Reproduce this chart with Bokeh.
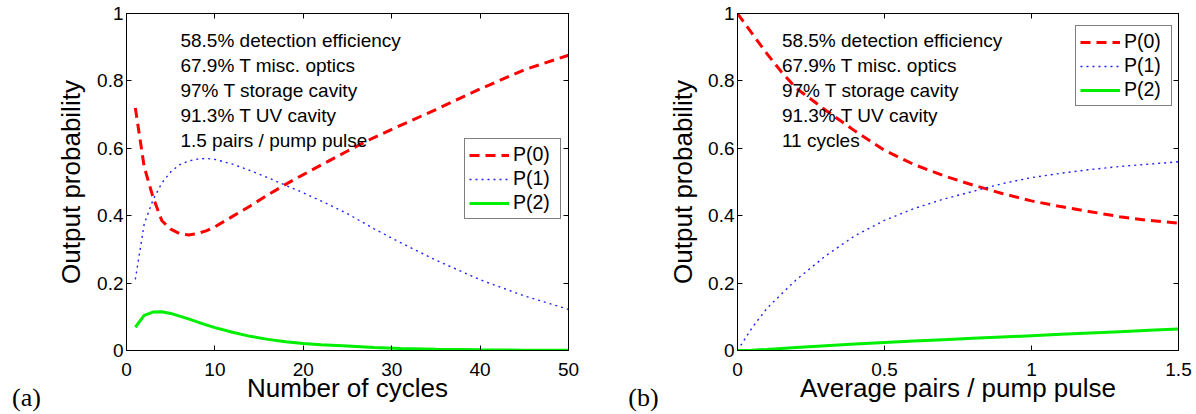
from bokeh.plotting import figure
from bokeh.models import Range1d, LinearAxis, FixedTicker, Label, Legend, LegendItem
from bokeh.layouts import row
from bokeh.embed import file_html
from bokeh.resources import INLINE

# ---------------- data: panel (a) ----------------
cycles = [1, 2, 3, 4, 5, 6, 7, 8, 9, 10, 12, 14, 16, 18, 20, 22, 25, 28, 31, 35, 40, 45, 50]
a_p0 = [0.720, 0.545, 0.455, 0.385, 0.360, 0.347, 0.343, 0.347, 0.355, 0.367, 0.398, 0.429,
        0.462, 0.493, 0.522, 0.550, 0.592, 0.632, 0.668, 0.715, 0.776, 0.833, 0.876]
a_p1 = [0.211, 0.375, 0.447, 0.497, 0.530, 0.551, 0.562, 0.568, 0.570, 0.567, 0.553, 0.534,
        0.513, 0.490, 0.468, 0.444, 0.406, 0.361, 0.320, 0.268, 0.210, 0.162, 0.122]
a_p2 = [0.069, 0.104, 0.114, 0.115, 0.110, 0.102, 0.094, 0.085, 0.076, 0.068, 0.054, 0.042,
        0.033, 0.026, 0.021, 0.017, 0.013, 0.009, 0.006, 0.004, 0.002, 0.001, 0.001]

# ---------------- data: panel (b) ----------------
pairs = [0, 0.05, 0.1, 0.15, 0.2, 0.3, 0.4, 0.5, 0.6, 0.7, 0.8, 0.9, 1.0, 1.1, 1.2, 1.3, 1.4, 1.5]
b_p0 = [1.0, 0.940, 0.881, 0.826, 0.778, 0.713, 0.651, 0.594, 0.552, 0.519, 0.491, 0.466,
        0.444, 0.427, 0.412, 0.397, 0.386, 0.378]
b_p1 = [0.0, 0.068, 0.125, 0.168, 0.210, 0.281, 0.341, 0.386, 0.421, 0.449, 0.472, 0.495,
        0.513, 0.526, 0.537, 0.546, 0.553, 0.560]
b_p2 = [0.0, 0.001, 0.003, 0.006, 0.009, 0.014, 0.019, 0.024, 0.028, 0.032, 0.036, 0.040,
        0.044, 0.048, 0.052, 0.056, 0.060, 0.064]

series_labels = ["P(0)", "P(1)", "P(2)"]

y_ticks = [0, 0.2, 0.4, 0.6, 0.8, 1]
y_tick_labels = ["0", "0.2", "0.4", "0.6", "0.8", "1"]
a_x_ticks = [0, 10, 20, 30, 40, 50]
a_x_tick_labels = ["0", "10", "20", "30", "40", "50"]
b_x_ticks = [0, 0.5, 1, 1.5]
b_x_tick_labels = ["0", "0.5", "1", "1.5"]

a_notes = ["58.5% detection efficiency", "67.9% T misc. optics", "97% T storage cavity",
           "91.3% T UV cavity", "1.5 pairs / pump pulse"]
b_notes = ["58.5% detection efficiency", "67.9% T misc. optics", "97% T storage cavity",
           "91.3% T UV cavity", "11 cycles"]

SANS = "Liberation Sans"
SERIF = "Liberation Serif"
H = 414


def make_panel(xs, ys_list, xr, x_ticks, x_tick_labels, xlabel, notes, note_x,
               width, border_left, border_right, legend_loc, ylabel_standoff):
    p = figure(width=width, height=H, output_backend="svg", toolbar_location=None,
               x_range=Range1d(*xr), y_range=Range1d(0, 1),
               min_border_left=border_left, min_border_right=border_right,
               min_border_top=13, min_border_bottom=62)
    p.grid.visible = False
    p.outline_line_color = "black"
    p.outline_line_width = 1
    p.background_fill_color = "white"
    p.border_fill_color = "white"

    xo = {v: s for v, s in zip(x_ticks, x_tick_labels)}
    yo = {v: s for v, s in zip(y_ticks, y_tick_labels)}

    for ax in p.xaxis:
        ax.ticker = FixedTicker(ticks=x_ticks)
        ax.major_label_overrides = xo
        ax.axis_label = xlabel
        ax.major_label_standoff = 12
        ax.axis_label_standoff = -6
    for ax in p.yaxis:
        ax.ticker = FixedTicker(ticks=y_ticks)
        ax.major_label_overrides = yo
        ax.axis_label = "Output probability"
        ax.major_label_standoff = 3
        ax.axis_label_standoff = ylabel_standoff
    for ax in list(p.xaxis) + list(p.yaxis):
        ax.major_tick_in = 5
        ax.major_tick_out = 0
        ax.minor_tick_line_color = None
        ax.axis_line_color = "black"
        ax.major_tick_line_color = "black"
        ax.major_label_text_font = SANS
        ax.major_label_text_font_size = "19px"
        ax.major_label_text_color = "black"
        ax.axis_label_text_font = SANS
        ax.axis_label_text_font_size = "26px"
        ax.axis_label_text_font_style = "normal"
        ax.axis_label_text_color = "black"

    # mirrored ticks on top and right (no labels)
    for side, tick in (("above", x_ticks), ("right", y_ticks)):
        m = LinearAxis(ticker=FixedTicker(ticks=tick))
        m.major_tick_in = 5
        m.major_tick_out = 0
        m.minor_tick_line_color = None
        m.major_label_text_font_size = "0px"
        m.major_label_text_color = None
        m.major_label_standoff = 0
        m.axis_line_color = "black"
        p.add_layout(m, side)

    styles = [dict(color="#ff0000", line_width=3, line_dash="10 6"),
              dict(color="#2020ff", line_width=1.4, line_dash="2 4"),
              dict(color="#00ee00", line_width=3)]
    rs = []
    for ys, st in zip(ys_list, styles):
        rs.append(p.line(xs, ys, **st))

    legend = Legend(items=[LegendItem(label=l, renderers=[r]) for l, r in zip(series_labels, rs)],
                    location=legend_loc, padding=4, spacing=1, margin=0,
                    glyph_width=40, glyph_height=20, label_height=23, label_width=43,
                    label_standoff=4, label_text_font=SANS, label_text_font_size="19.5px",
                    label_text_color="black", border_line_color="black", border_line_width=1,
                    background_fill_color="white", background_fill_alpha=1)
    p.add_layout(legend)

    y0, dy = 0.921, 0.0742
    for i, t in enumerate(notes):
        p.add_layout(Label(x=note_x, y=y0 - i * dy, text=t, text_font=SANS,
                           text_font_size="19px", text_baseline="middle", text_align="left",
                           text_color="black"))
    return p


def tag_panel(tag, width, border_left):
    # narrow strip whose (empty) bottom axis carries the panel letter as its label
    t = figure(width=width, height=H, output_backend="svg", toolbar_location=None,
               x_range=Range1d(0, 1), y_range=Range1d(0, 1), y_axis_type=None,
               min_border_left=border_left, min_border_right=0,
               min_border_top=13, min_border_bottom=62)
    t.grid.visible = False
    t.outline_line_color = None
    ax = t.xaxis[0]
    ax.ticker = FixedTicker(ticks=[])
    ax.axis_line_color = None
    ax.major_tick_line_color = None
    ax.minor_tick_line_color = None
    ax.major_label_standoff = 0
    ax.axis_label = tag
    ax.axis_label_standoff = 32
    ax.axis_label_text_font = SERIF
    ax.axis_label_text_font_size = "26px"
    ax.axis_label_text_font_style = "normal"
    ax.axis_label_text_color = "black"
    return t


ta = tag_panel("(a)", 52, 0)
pa = make_panel(cycles, [a_p0, a_p1, a_p2], (0, 50), a_x_ticks, a_x_tick_labels,
                "Number of cycles", a_notes, 6.1,
                552, 74, 36, (338, 131), 8)
tb = tag_panel("(b)", 60, 18)
pb = make_panel(pairs, [b_p0, b_p1, b_p2], (0, 1.5), b_x_ticks, b_x_tick_labels,
                "Average pairs / pump pulse", b_notes, 0.151,
                530, 73, 16, (338, 244), 7)

layout = row(ta, pa, tb, pb)
open("out.html", "w").write(file_html(layout, INLINE))
